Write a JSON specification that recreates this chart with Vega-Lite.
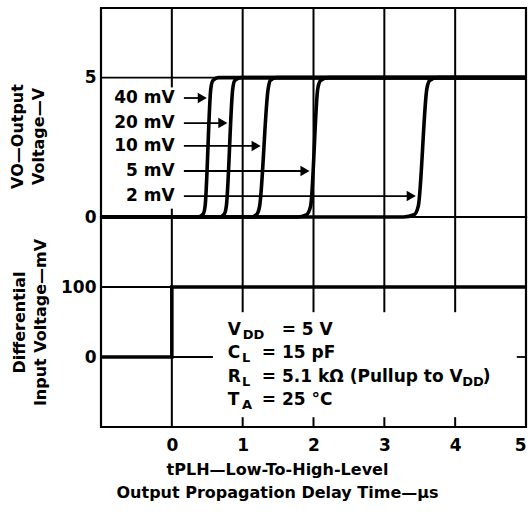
{
  "$schema": "https://vega.github.io/schema/vega-lite/v6.json",
  "padding": {"left": 8, "top": 5, "right": 0, "bottom": 5},
  "spacing": 0,
  "bounds": "flush",
  "background": "white",
  "config": {
    "font": "DejaVu Sans",
    "view": {"stroke": "black", "strokeWidth": 2.2},
    "axis": {
      "labelFont": "DejaVu Sans", "labelFontWeight": "bold", "labelFontSize": 17, "labelColor": "black",
      "titleFont": "DejaVu Sans", "titleFontWeight": "bold", "titleFontSize": 16, "titleColor": "black",
      "grid": false, "ticks": false, "domain": false
    },
    "text": {"font": "DejaVu Sans", "fontWeight": "bold", "color": "black"}
  },
  "datasets": {
    "vgTop": [
      {"t": 0, "v": 0, "v2": 0.3}, {"t": 0, "v": 4.65, "v2": 7.5},
      {"t": 1, "v": 0, "v2": 7.5}, {"t": 2, "v": 0, "v2": 7.5}, {"t": 3, "v": 0, "v2": 7.5}, {"t": 4, "v": 0, "v2": 7.5}
    ],
    "hgTop": [{"t": -1, "t2": 5, "v": 5}],
    "vgBot": [
      {"t": 0, "v": -100, "v2": 200},
      {"t": 1, "v": 64, "v2": 200}, {"t": 1, "v": -100, "v2": -86},
      {"t": 2, "v": 64, "v2": 200}, {"t": 2, "v": -100, "v2": -86},
      {"t": 3, "v": 64, "v2": 200}, {"t": 3, "v": -100, "v2": -86},
      {"t": 4, "v": 64, "v2": 200}, {"t": 4, "v": -100, "v2": -86}
    ],
    "hgBot": [{"t": -1, "t2": 5, "v": 100}, {"t": -1, "t2": 0.58, "v": 0}, {"t": 4.87, "t2": 5, "v": 0}],
    "out": [
      {"c": "40 mV", "t": -1, "v": 0}, {"c": "40 mV", "t": 0.36, "v": 0}, {"c": "40 mV", "t": 0.44, "v": 0.1}, {"c": "40 mV", "t": 0.47, "v": 0.4}, {"c": "40 mV", "t": 0.55, "v": 4.6}, {"c": "40 mV", "t": 0.58, "v": 4.9}, {"c": "40 mV", "t": 0.66, "v": 5}, {"c": "40 mV", "t": 5, "v": 5},
      {"c": "20 mV", "t": -1, "v": 0}, {"c": "20 mV", "t": 0.67, "v": 0}, {"c": "20 mV", "t": 0.74, "v": 0.1}, {"c": "20 mV", "t": 0.77, "v": 0.4}, {"c": "20 mV", "t": 0.86, "v": 4.6}, {"c": "20 mV", "t": 0.89, "v": 4.9}, {"c": "20 mV", "t": 0.98, "v": 5}, {"c": "20 mV", "t": 5, "v": 5},
      {"c": "10 mV", "t": -1, "v": 0}, {"c": "10 mV", "t": 1.12, "v": 0}, {"c": "10 mV", "t": 1.2, "v": 0.1}, {"c": "10 mV", "t": 1.24, "v": 0.4}, {"c": "10 mV", "t": 1.36, "v": 4.6}, {"c": "10 mV", "t": 1.39, "v": 4.9}, {"c": "10 mV", "t": 1.48, "v": 5}, {"c": "10 mV", "t": 5, "v": 5},
      {"c": "5 mV", "t": -1, "v": 0}, {"c": "5 mV", "t": 1.77, "v": 0}, {"c": "5 mV", "t": 1.9, "v": 0.08}, {"c": "5 mV", "t": 1.96, "v": 0.4}, {"c": "5 mV", "t": 2.06, "v": 4.6}, {"c": "5 mV", "t": 2.1, "v": 4.9}, {"c": "5 mV", "t": 2.21, "v": 5}, {"c": "5 mV", "t": 5, "v": 5},
      {"c": "2 mV", "t": -1, "v": 0}, {"c": "2 mV", "t": 3.27, "v": 0}, {"c": "2 mV", "t": 3.42, "v": 0.08}, {"c": "2 mV", "t": 3.48, "v": 0.4}, {"c": "2 mV", "t": 3.6, "v": 4.6}, {"c": "2 mV", "t": 3.64, "v": 4.9}, {"c": "2 mV", "t": 3.75, "v": 5}, {"c": "2 mV", "t": 5, "v": 5}
    ],
    "arr": [
      {"lab": "40 mV", "v": 4.27, "t": 0.17, "t2": 0.47, "h": 0.43, "tl": 0.04},
      {"lab": "20 mV", "v": 3.37, "t": 0.17, "t2": 0.76, "h": 0.72, "tl": 0.04},
      {"lab": "10 mV", "v": 2.55, "t": 0.17, "t2": 1.23, "h": 1.19, "tl": 0.04},
      {"lab": "5 mV", "v": 1.65, "t": 0.17, "t2": 1.92, "h": 1.88, "tl": 0.04},
      {"lab": "2 mV", "v": 0.75, "t": 0.17, "t2": 3.42, "h": 3.38, "tl": 0.04}
    ],
    "inp": [
      {"t": -1, "v": 0, "i": 0}, {"t": 0, "v": 0, "i": 1}, {"t": 0, "v": 100, "i": 2}, {"t": 5, "v": 100, "i": 3}
    ],
    "txt": [
      {"t": 0.79, "v": 38.6, "s": "V", "k": "m"}, {"t": 1.0, "v": 38.6, "s": "DD", "k": "s"}, {"t": 1.55, "v": 38.6, "s": "= 5 V", "k": "m"},
      {"t": 0.79, "v": 5.7, "s": "C", "k": "m"}, {"t": 0.99, "v": 5.7, "s": "L", "k": "s"}, {"t": 1.27, "v": 5.7, "s": "= 15 pF", "k": "m"},
      {"t": 0.79, "v": -28.6, "s": "R", "k": "m"}, {"t": 0.99, "v": -28.6, "s": "L", "k": "s"}, {"t": 1.27, "v": -28.6, "s": "= 5.1 kΩ (Pullup to V", "k": "m"}, {"t": 4.1, "v": -28.6, "s": "DD", "k": "s"}, {"t": 4.39, "v": -28.6, "s": ")", "k": "m"},
      {"t": 0.79, "v": -61.4, "s": "T", "k": "m"}, {"t": 0.99, "v": -61.4, "s": "A", "k": "s"}, {"t": 1.27, "v": -61.4, "s": "= 25 °C", "k": "m"}
    ]
  },
  "vconcat": [
    {
      "width": 425,
      "height": 209,
      "encoding": {
        "x": {"field": "t", "type": "quantitative", "scale": {"domain": [-1, 5], "nice": false, "zero": false}, "axis": null},
        "y": {"field": "v", "type": "quantitative", "scale": {"domain": [0, 7.5], "nice": false},
              "axis": {"values": [0, 5], "labelPadding": 5, "title": ["VO—Output", "Voltage—V"], "titlePadding": 38, "titleLineHeight": 21, "titleY": 128}}
      },
      "layer": [
        {"data": {"name": "vgTop"}, "mark": {"type": "rule", "color": "black", "strokeWidth": 2}, "encoding": {"y2": {"field": "v2"}}},
        {"data": {"name": "hgTop"}, "mark": {"type": "rule", "color": "black", "strokeWidth": 1.8}, "encoding": {"x2": {"field": "t2"}}},
        {"data": {"name": "out"}, "mark": {"type": "line", "color": "black", "strokeWidth": 3.6, "interpolate": "monotone"}, "encoding": {"detail": {"field": "c"}}},
        {"data": {"name": "arr"}, "mark": {"type": "rule", "color": "black", "strokeWidth": 1.8}, "encoding": {"x2": {"field": "t2"}}},
        {"data": {"name": "arr"}, "mark": {"type": "point", "shape": "triangle-right", "filled": true, "color": "black", "opacity": 1, "size": 110}, "encoding": {"x": {"field": "h", "type": "quantitative"}}},
        {"data": {"name": "arr"}, "mark": {"type": "text", "align": "right", "baseline": "middle", "fontSize": 17}, "encoding": {"x": {"field": "tl", "type": "quantitative"}, "text": {"field": "lab"}}}
      ]
    },
    {
      "width": 425,
      "height": 210,
      "encoding": {
        "x": {"field": "t", "type": "quantitative", "scale": {"domain": [-1, 5], "nice": false, "zero": false},
              "axis": {"values": [0, 1, 2, 3, 4, 5], "labelPadding": 10, "title": ["tPLH—Low-To-High-Level", "Output Propagation Delay Time—µs"], "titleX": 176, "titlePadding": 8, "titleLineHeight": 23}},
        "y": {"field": "v", "type": "quantitative", "scale": {"domain": [-100, 200], "nice": false},
              "axis": {"values": [0, 100], "labelPadding": 5, "title": ["Differential", "Input Voltage—mV"], "titlePadding": 12, "titleLineHeight": 21}}
      },
      "layer": [
        {"data": {"name": "vgBot"}, "mark": {"type": "rule", "color": "black", "strokeWidth": 2}, "encoding": {"y2": {"field": "v2"}}},
        {"data": {"name": "hgBot"}, "mark": {"type": "rule", "color": "black", "strokeWidth": 1.8}, "encoding": {"x2": {"field": "t2"}}},
        {"data": {"name": "inp"}, "mark": {"type": "line", "color": "black", "strokeWidth": 3.6}, "encoding": {"order": {"field": "i"}}},
        {"data": {"name": "txt"}, "transform": [{"filter": "datum.k == 'm'"}], "mark": {"type": "text", "align": "left", "baseline": "middle", "fontSize": 17}, "encoding": {"text": {"field": "s"}}},
        {"data": {"name": "txt"}, "transform": [{"filter": "datum.k == 's'"}], "mark": {"type": "text", "align": "left", "baseline": "middle", "fontSize": 13, "dy": 5}, "encoding": {"text": {"field": "s"}}}
      ]
    }
  ]
}
